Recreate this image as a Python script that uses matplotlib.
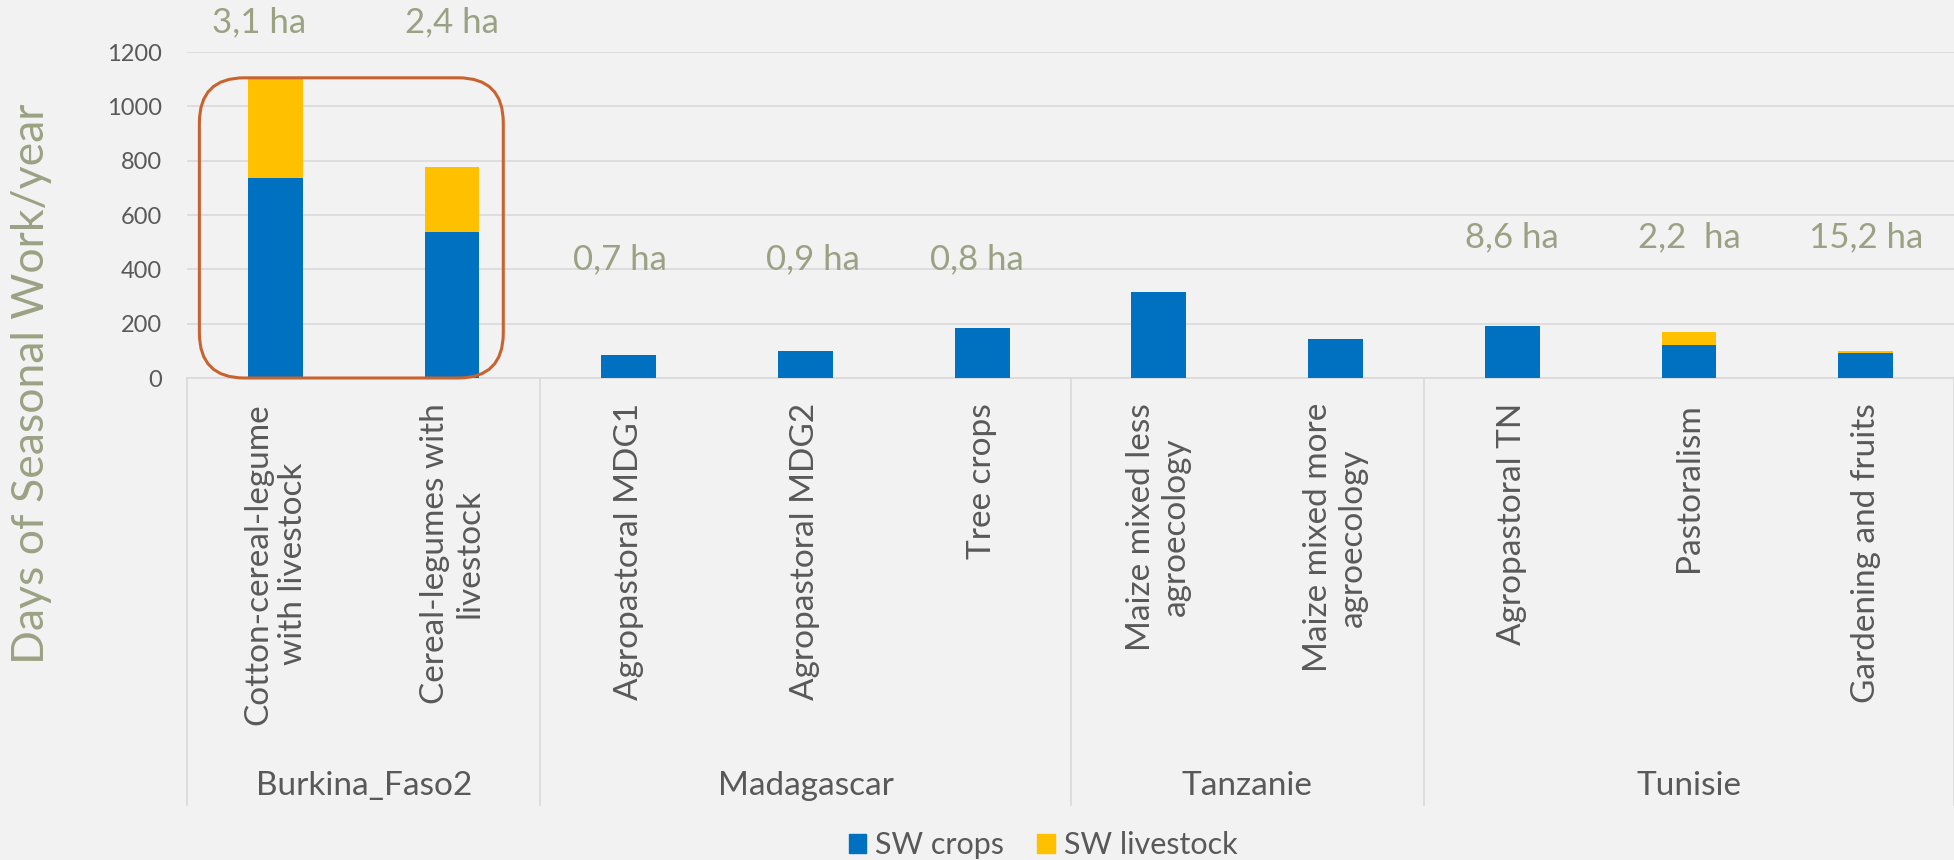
import matplotlib
matplotlib.use("Agg")
import matplotlib.pyplot as plt
import matplotlib.transforms as mtransforms
from matplotlib.patches import FancyBboxPatch, Patch
from matplotlib.lines import Line2D
import numpy as np

# ---------------- data ----------------
categories = [
    "Cotton-cereal-legume\nwith livestock",
    "Cereal-legumes with\nlivestock",
    "Agropastoral MDG1",
    "Agropastoral MDG2",
    "Tree crops",
    "Maize mixed less\nagroecology",
    "Maize mixed more\nagroecology",
    "Agropastoral TN",
    "Pastoralism",
    "Gardening and fruits",
]
groups = ["Burkina_Faso2", "Madagascar", "Tanzanie", "Tunisie"]
group_sizes = [2, 3, 2, 3]
sw_crops = [736, 537, 83, 101, 185, 317, 144, 190, 120, 93]
sw_livestock = [369, 241, 0, 0, 0, 0, 0, 3, 51, 8]
farm_sizes = ["3,1 ha", "2,4 ha", "0,7 ha", "0,9 ha", "0,8 ha", "", "",
              "8,6 ha", "2,2  ha", "15,2 ha"]
series_names = ["SW crops", "SW livestock"]
y_label = "Days of Seasonal Work/year"

# ---------------- style ----------------
plt.rcParams["font.family"] = ["Lato", "DejaVu Sans"]
BG = "#F2F2F2"
BLUE = "#0070C0"
YELLOW = "#FFC000"
GRID = "#D9D9D9"
TXT = "#595959"
GREEN = "#9BA283"
ORANGE = "#C8632F"

W, H, DPI = 19.54, 8.6, 100
fig = plt.figure(figsize=(W, H), dpi=DPI, facecolor=BG)
PXW, PXH = W * DPI, H * DPI
ax = fig.add_axes([187 / PXW, 1 - 378 / PXH, 1 - 187 / PXW, 326 / PXH])
ax.set_facecolor(BG)

x = np.arange(len(categories))
crops = np.array(sw_crops, dtype=float)
live = np.array(sw_livestock, dtype=float)
ax.bar(x, crops, width=0.31, color=BLUE, zorder=3, label=series_names[0])
ax.bar(x, live, bottom=crops, width=0.31, color=YELLOW, zorder=3,
       label=series_names[1])

ax.set_xlim(-0.5, len(categories) - 0.5)
ax.set_ylim(0, 1200)
ax.set_yticks(range(0, 1201, 200))
ax.yaxis.grid(True, color=GRID, lw=1.2)
ax.set_axisbelow(True)
for s in ["top", "right", "left"]:
    ax.spines[s].set_visible(False)
ax.spines["bottom"].set_color(GRID)
ax.spines["bottom"].set_linewidth(1.2)
ax.tick_params(axis="y", length=0, pad=18, labelsize=17, labelcolor=TXT)
ax.tick_params(axis="x", length=0, pad=18, labelsize=24, labelcolor=TXT)
ax.set_xticks(x)
ax.set_xticklabels(categories, rotation=90, va="top", ha="center")
for t in ax.get_xticklabels():
    t.set_multialignment("center")

# group separators and group labels
trans = mtransforms.blended_transform_factory(ax.transData, fig.transFigure)
bounds = np.concatenate([[0], np.cumsum(group_sizes)]) - 0.5
for b in bounds:
    ax.add_line(Line2D([b, b], [1 - 378 / PXH, 1 - 805 / PXH], transform=trans,
                       color=GRID, lw=1.2, clip_on=False))
for g, a, b in zip(groups, bounds[:-1], bounds[1:]):
    ax.text((a + b) / 2, 1 - 786 / PXH, g, transform=trans, ha="center",
            va="center", fontsize=24, color=TXT)

# farm size annotations
label_y = [1308, 1308, 438, 438, 438, 0, 0, 519, 519, 519]
label_dx = [-0.09, 0, -0.05, 0.04, -0.03, 0, 0, 0, 0, 0]
for i, (s, yy, dx) in enumerate(zip(farm_sizes, label_y, label_dx)):
    if s:
        ax.text(i + dx, yy, s, ha="center", va="center", fontsize=25,
                color=GREEN, clip_on=False)

# rounded highlight box around Burkina Faso group
pos = ax.get_position()
xpp = (ax.get_xlim()[1] - ax.get_xlim()[0]) / (pos.width * PXW)
ypp = (ax.get_ylim()[1] - ax.get_ylim()[0]) / (pos.height * PXH)
aspect = ypp / xpp
r = 45 * xpp
x0, x1 = -0.43, 1.29
top = crops[0] + live[0]
box = FancyBboxPatch((x0, 0), x1 - x0, top,
                     boxstyle=f"round,pad=0,rounding_size={r}",
                     mutation_aspect=aspect, transform=ax.transData,
                     fill=False, ec=ORANGE, lw=2.2, clip_on=False, zorder=5)
ax.add_patch(box)

# y label
fig.text(32 / PXW, 1 - 384 / PXH, y_label, rotation=90, ha="center",
         va="center", fontsize=32, color=GREEN)

# legend
handles = [Patch(color=BLUE, label=series_names[0]),
           Patch(color=YELLOW, label=series_names[1])]
fig.legend(handles=handles, loc="center", bbox_to_anchor=(1043 / PXW, 1 - 845 / PXH),
           ncol=2, frameon=False, fontsize=22, handlelength=0.56,
           handleheight=0.56, handletextpad=0.3, columnspacing=1.1,
           labelcolor=TXT, borderpad=0)

fig.savefig("out.png", dpi=DPI, facecolor=BG)
